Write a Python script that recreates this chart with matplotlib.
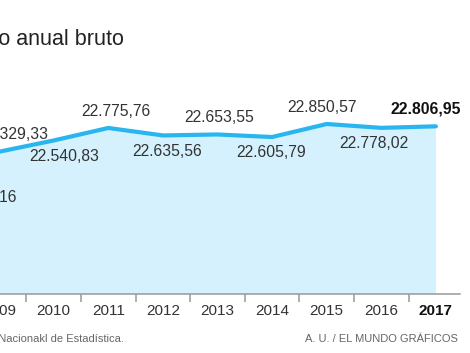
import matplotlib
matplotlib.use('Agg')
import matplotlib.pyplot as plt

# Salario medio anual bruto (euros)
years = [2008, 2009, 2010, 2011, 2012, 2013, 2014, 2015, 2016, 2017]
salaries = [21771.16, 22329.33, 22540.83, 22775.76, 22635.56,
            22653.55, 22605.79, 22850.57, 22778.02, 22806.95]

title = 'Salario medio anual bruto'
source = 'Fuente: Instituto Nacionakl de Estadística.'
credit = 'A. U. / EL MUNDO GRÁFICOS'

LINE = '#29b5ef'
FILL = '#d4f1fd'
TEXT = '#333333'
AXIS = '#999999'


def fmt(v):
    # spanish number format: 22.806,95
    return f'{v:,.2f}'.replace(',', 'X').replace('.', ',').replace('X', '.')


plt.rcParams['font.family'] = ['Liberation Sans', 'DejaVu Sans']

W, H = 470, 353
fig = plt.figure(figsize=(W / 100, H / 100), dpi=100)

# the chart is cropped on the left: axes start off-canvas
x0, x1 = 2007.9, 2017.6245
left_px = 217.5 + 54.6 * (x0 - 2013)
ax = fig.add_axes([left_px / W, 59 / H, (W - left_px) / W, 294 / H])

ymin = 19654
ax.fill_between(years, salaries, ymin, color=FILL, lw=0, zorder=1)
ax.plot(years, salaries, color=LINE, lw=3, solid_capstyle='round', zorder=3)

# value labels, alternating above / below the line
for i, (yr, v) in enumerate(zip(years, salaries)):
    above = (yr - 2009) % 2 == 0
    dy = 12.2 if above else -11.5
    last = yr == years[-1]
    if i == 0:
        ha, dx = 'left', 2.2
    else:
        ha, dx = 'center', (10.8 - (yr - 2010) * 3.06) * 0.72
    ax.annotate(fmt(v), (yr, v), xytext=(dx, dy), textcoords='offset points',
                ha=ha, va='center', fontsize=11.3, color='#111111' if last else TEXT,
                fontweight='bold' if last else 'normal', zorder=4,
                annotation_clip=False)

# axis
for s in ['top', 'left', 'right']:
    ax.spines[s].set_visible(False)
ax.spines['bottom'].set_color(AXIS)
ax.spines['bottom'].set_linewidth(1.1)
ax.spines['bottom'].set_bounds(x0, 2017.441)
ax.spines['bottom'].set_zorder(5)
ax.set_yticks([])

ax.set_xticks([y + 0.5 for y in years[:-1]])
ax.set_xticklabels([])
ax.tick_params(axis='x', which='major', length=5.8, width=1.1, color=AXIS, direction='out')
ax.set_xticks(years, minor=True)
ax.set_xticklabels([str(y) for y in years], minor=True)
ax.tick_params(axis='x', which='minor', length=0, pad=7, labelsize=11, labelcolor=TEXT)
ax.get_xticklabels(minor=True)[-1].set_fontweight('bold')
ax.get_xticklabels(minor=True)[-1].set_color('#111111')

# limits last, set_xticks would widen them otherwise
ax.set_xlim(x0, x1)
ax.set_ylim(ymin, 25182)

fig.text(124 / W, 1 - 45 / H, title, ha='right', va='baseline', fontsize=15.5, color='#222222')
fig.text(124 / W, 11 / H, source, ha='right', va='baseline', fontsize=8, color='#666666')
fig.text(458 / W, 11 / H, credit, ha='right', va='baseline', fontsize=8, color='#666666')

fig.savefig('out.png', dpi=100)
plt.close(fig)
